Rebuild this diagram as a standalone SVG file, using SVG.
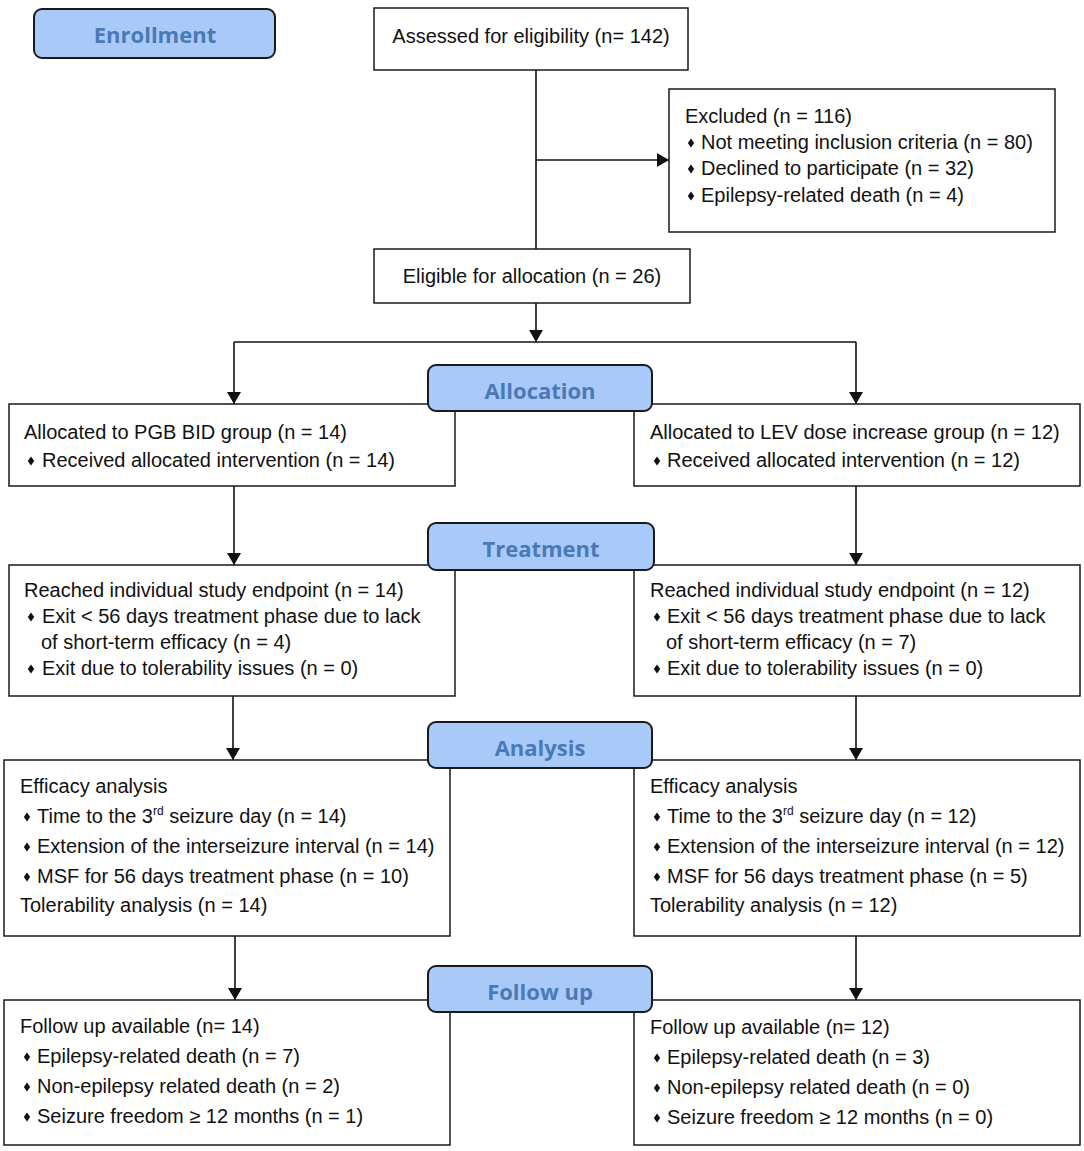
<svg xmlns="http://www.w3.org/2000/svg" width="1084" height="1151" viewBox="0 0 1084 1151">
<style>
  .box{fill:#fff;stroke:#1a1a1a;stroke-width:1.5}
  .stage{fill:#a9c9f9;stroke:#1a1a1a;stroke-width:2}
  .st{font-family:"Open Sans",sans-serif;font-weight:700;font-size:22px;fill:#4a7ab5;text-anchor:middle}
  .t{font-family:"Liberation Sans",Arial,sans-serif;font-size:20px;fill:#111}
  .c{text-anchor:middle}
  .sup{font-size:12px}
  .ln{fill:none;stroke:#111;stroke-width:1.6}
  .bul{fill:#111}
</style>
<defs>
  <marker id="ah" markerUnits="userSpaceOnUse" markerWidth="12" markerHeight="14" refX="12" refY="7" orient="auto">
    <path d="M0,0 L12,7 L0,14 z" fill="#111"/>
  </marker>
  <polygon id="d" points="0,-4.5 3.2,0 0,4.5 -3.2,0"/>
</defs>

<g id="connectors">
  <line class="ln" x1="536" y1="70" x2="536" y2="249"/>
  <line class="ln" x1="536" y1="160" x2="669" y2="160" marker-end="url(#ah)"/>
  <line class="ln" x1="536" y1="303" x2="536" y2="342" marker-end="url(#ah)"/>
  <polyline class="ln" points="234,342 856,342"/>
  <line class="ln" x1="234" y1="342" x2="234" y2="404" marker-end="url(#ah)"/>
  <line class="ln" x1="856" y1="342" x2="856" y2="404" marker-end="url(#ah)"/>
  <line class="ln" x1="234" y1="486" x2="234" y2="565" marker-end="url(#ah)"/>
  <line class="ln" x1="856" y1="486" x2="856" y2="565" marker-end="url(#ah)"/>
  <line class="ln" x1="233" y1="696" x2="233" y2="760" marker-end="url(#ah)"/>
  <line class="ln" x1="856" y1="696" x2="856" y2="760" marker-end="url(#ah)"/>
  <line class="ln" x1="235" y1="936" x2="235" y2="1000" marker-end="url(#ah)"/>
  <line class="ln" x1="856" y1="936" x2="856" y2="1000" marker-end="url(#ah)"/>
</g>

<g id="assessed">
  <rect class="box" x="374" y="8" width="314" height="62"/>
  <text class="t c" x="531" y="43">Assessed for eligibility (n= 142)</text>
</g>

<g id="excluded">
  <rect class="box" x="669" y="89" width="386" height="143"/>
  <text class="t" x="685" y="123">Excluded (n = 116)</text>
  <use class="bul" href="#d" x="691" y="143"/>
  <text class="t" x="701" y="149">Not meeting inclusion criteria (n = 80)</text>
  <use class="bul" href="#d" x="691" y="169"/>
  <text class="t" x="701" y="175">Declined to participate (n = 32)</text>
  <use class="bul" href="#d" x="691" y="196"/>
  <text class="t" x="701" y="202">Epilepsy-related death (n = 4)</text>
</g>

<g id="eligible">
  <rect class="box" x="374" y="249" width="316" height="54"/>
  <text class="t c" x="532" y="283">Eligible for allocation (n = 26)</text>
</g>

<g id="alloc-left">
  <rect class="box" x="9" y="404" width="446" height="82"/>
  <text class="t" x="24" y="439">Allocated to PGB BID group (n = 14)</text>
  <use class="bul" href="#d" x="31" y="461"/>
  <text class="t" x="42" y="467">Received allocated intervention (n = 14)</text>
</g>

<g id="alloc-right">
  <rect class="box" x="634" y="404" width="446" height="82"/>
  <text class="t" x="650" y="439">Allocated to LEV dose increase group (n = 12)</text>
  <use class="bul" href="#d" x="657" y="461"/>
  <text class="t" x="667" y="467">Received allocated intervention (n = 12)</text>
</g>

<g id="treat-left">
  <rect class="box" x="9" y="565" width="446" height="131"/>
  <text class="t" x="24" y="597">Reached individual study endpoint (n = 14)</text>
  <use class="bul" href="#d" x="31" y="617"/>
  <text class="t" x="42" y="623">Exit &lt; 56 days treatment phase due to lack</text>
  <text class="t" x="41" y="649">of short-term efficacy (n = 4)</text>
  <use class="bul" href="#d" x="31" y="669"/>
  <text class="t" x="42" y="675">Exit due to tolerability issues (n = 0)</text>
</g>

<g id="treat-right">
  <rect class="box" x="634" y="565" width="446" height="131"/>
  <text class="t" x="650" y="597">Reached individual study endpoint (n = 12)</text>
  <use class="bul" href="#d" x="657" y="617"/>
  <text class="t" x="667" y="623">Exit &lt; 56 days treatment phase due to lack</text>
  <text class="t" x="666" y="649">of short-term efficacy (n = 7)</text>
  <use class="bul" href="#d" x="657" y="669"/>
  <text class="t" x="667" y="675">Exit due to tolerability issues (n = 0)</text>
</g>

<g id="analysis-left">
  <rect class="box" x="4" y="760" width="446" height="176"/>
  <text class="t" x="20" y="793">Efficacy analysis</text>
  <use class="bul" href="#d" x="27" y="817"/>
  <text class="t" x="37" y="823">Time to the 3<tspan class="sup" dy="-8">rd</tspan><tspan dy="8"> seizure day (n = 14)</tspan></text>
  <use class="bul" href="#d" x="27" y="847"/>
  <text class="t" x="37" y="853">Extension of the interseizure interval (n = 14)</text>
  <use class="bul" href="#d" x="27" y="877"/>
  <text class="t" x="37" y="883">MSF for 56 days treatment phase (n = 10)</text>
  <text class="t" x="20" y="912">Tolerability analysis (n = 14)</text>
</g>

<g id="analysis-right">
  <rect class="box" x="634" y="760" width="446" height="176"/>
  <text class="t" x="650" y="793">Efficacy analysis</text>
  <use class="bul" href="#d" x="657" y="817"/>
  <text class="t" x="667" y="823">Time to the 3<tspan class="sup" dy="-8">rd</tspan><tspan dy="8"> seizure day (n = 12)</tspan></text>
  <use class="bul" href="#d" x="657" y="847"/>
  <text class="t" x="667" y="853">Extension of the interseizure interval (n = 12)</text>
  <use class="bul" href="#d" x="657" y="877"/>
  <text class="t" x="667" y="883">MSF for 56 days treatment phase (n = 5)</text>
  <text class="t" x="650" y="912">Tolerability analysis (n = 12)</text>
</g>

<g id="follow-left">
  <rect class="box" x="4" y="1000" width="446" height="145"/>
  <text class="t" x="20" y="1033">Follow up available (n= 14)</text>
  <use class="bul" href="#d" x="27" y="1057"/>
  <text class="t" x="37" y="1063">Epilepsy-related death (n = 7)</text>
  <use class="bul" href="#d" x="27" y="1087"/>
  <text class="t" x="37" y="1093">Non-epilepsy related death (n = 2)</text>
  <use class="bul" href="#d" x="27" y="1117"/>
  <text class="t" x="37" y="1123">Seizure freedom ≥ 12 months (n = 1)</text>
</g>

<g id="follow-right">
  <rect class="box" x="634" y="1000" width="446" height="145"/>
  <text class="t" x="650" y="1034">Follow up available (n= 12)</text>
  <use class="bul" href="#d" x="657" y="1058"/>
  <text class="t" x="667" y="1064">Epilepsy-related death (n = 3)</text>
  <use class="bul" href="#d" x="657" y="1088"/>
  <text class="t" x="667" y="1094">Non-epilepsy related death (n = 0)</text>
  <use class="bul" href="#d" x="657" y="1118"/>
  <text class="t" x="667" y="1124">Seizure freedom ≥ 12 months (n = 0)</text>
</g>

<g id="stage-enrollment">
  <rect class="stage" x="34" y="9" width="241" height="49" rx="8"/>
  <text class="st" x="155" y="43">Enrollment</text>
</g>
<g id="stage-allocation">
  <rect class="stage" x="428" y="365" width="224" height="46" rx="8"/>
  <text class="st" x="540" y="399">Allocation</text>
</g>
<g id="stage-treatment">
  <rect class="stage" x="428" y="523" width="226" height="47" rx="8"/>
  <text class="st" x="541" y="557">Treatment</text>
</g>
<g id="stage-analysis">
  <rect class="stage" x="428" y="722" width="224" height="46" rx="8"/>
  <text class="st" x="540" y="756">Analysis</text>
</g>
<g id="stage-followup">
  <rect class="stage" x="428" y="966" width="224" height="46" rx="8"/>
  <text class="st" x="540" y="1000">Follow up</text>
</g>
</svg>
